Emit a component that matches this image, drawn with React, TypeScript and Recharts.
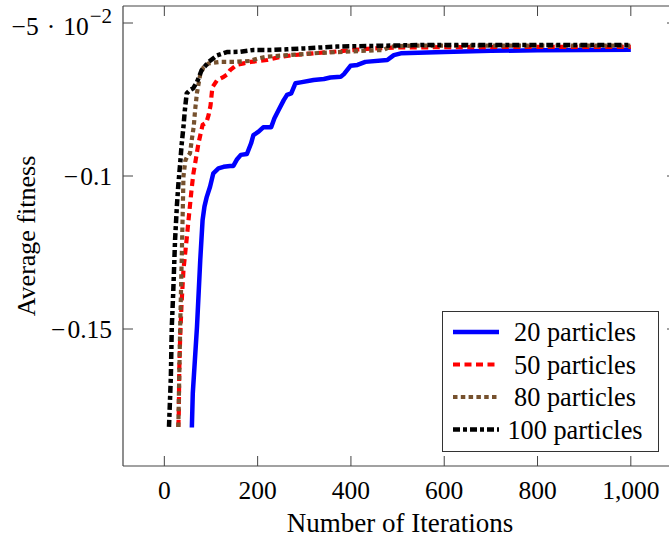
import React from 'react';
import { LineChart, Line, XAxis, YAxis, Legend, Label } from 'recharts';

const FONT = '"Liberation Serif", "Times New Roman", serif';

// ---- axis ticks ----
const xTicks = [0, 200, 400, 600, 800, 1000];
const yTicks = [-0.15, -0.1, -0.05];

// ---- series names ----
const seriesNames = ['20 particles', '50 particles', '80 particles', '100 particles'];

// ---- 20 particles ----
const iter20 = [59, 61, 70, 77, 82, 86, 91, 98, 105, 116, 127, 141, 148, 156, 164, 177, 186, 191, 202, 212, 229, 236, 245, 256, 263, 272, 281, 292, 320, 342, 356, 378, 385, 399, 414, 431, 478, 492, 507, 600, 700, 800, 900, 1000];
const fit20 = [-0.1822, -0.171, -0.1493, -0.1275, -0.1144, -0.11, -0.1068, -0.1035, -0.0991, -0.0975, -0.097, -0.0967, -0.0967, -0.0945, -0.0931, -0.0928, -0.0893, -0.0866, -0.0855, -0.0841, -0.0841, -0.0811, -0.0784, -0.0752, -0.0735, -0.073, -0.0697, -0.0694, -0.0686, -0.0683, -0.0678, -0.0676, -0.0667, -0.064, -0.0637, -0.0627, -0.0621, -0.0605, -0.0599, -0.0595, -0.0591, -0.0589, -0.0588, -0.0587];

// ---- 50 particles ----
const iter50 = [30, 31, 32, 34, 37, 41, 48, 54, 58, 62, 67, 73, 78, 82, 90, 95, 99, 103, 113, 125, 135, 141, 155, 170, 185, 220, 250, 277, 320, 363, 406, 450, 500, 600, 800, 1000];
const fit50 = [-0.182, -0.1775, -0.1634, -0.1525, -0.1416, -0.1307, -0.1204, -0.1111, -0.105, -0.0995, -0.095, -0.0895, -0.086, -0.0833, -0.0826, -0.08, -0.077, -0.071, -0.0687, -0.0678, -0.0668, -0.0654, -0.0637, -0.0632, -0.0627, -0.0621, -0.061, -0.0605, -0.0599, -0.0594, -0.0588, -0.0583, -0.058, -0.0579, -0.0578, -0.0578];

// ---- 80 particles ----
const iter80 = [30, 34, 38, 40, 41, 45, 48, 55, 59, 63, 66, 70, 77, 84, 95, 120, 150, 184, 200, 220, 256, 285, 330, 400, 470, 485, 528, 700, 1000];
const fit80 = [-0.182, -0.1492, -0.122, -0.1078, -0.1002, -0.095, -0.094, -0.0926, -0.088, -0.0839, -0.0784, -0.0728, -0.0668, -0.0645, -0.0632, -0.0627, -0.0627, -0.0624, -0.0616, -0.061, -0.0606, -0.0603, -0.0598, -0.0593, -0.0588, -0.0577, -0.0574, -0.0574, -0.0574];

// ---- 100 particles ----
const iter100 = [10, 14, 16, 19, 23, 27, 30, 34, 37, 41, 44, 48, 55, 62, 70, 80, 95, 113, 134, 163, 191, 227, 263, 300, 370, 442, 550, 1000];
const fit100 = [-0.182, -0.1656, -0.1492, -0.1383, -0.1209, -0.1095, -0.1029, -0.0958, -0.0899, -0.0839, -0.0784, -0.073, -0.0719, -0.0713, -0.0693, -0.0654, -0.0627, -0.0606, -0.0595, -0.0594, -0.0588, -0.0588, -0.0586, -0.0583, -0.0577, -0.0575, -0.0572, -0.0572];

const toPoints = (xs: number[], ys: number[]) => xs.map((x, i) => ({ x, y: ys[i] }));

const seriesData = [
  toPoints(iter20, fit20),
  toPoints(iter50, fit50),
  toPoints(iter80, fit80),
  toPoints(iter100, fit100),
];

const seriesStyle = [
  { color: '#0000ff', width: 4.5, dash: undefined as string | undefined },
  { color: '#ff0000', width: 4.2, dash: '7 4.5' },
  { color: '#76512e', width: 4.2, dash: '4.5 3.3' },
  { color: '#000000', width: 4.5, dash: '7 3 4 3' },
];

const FRAME = '#444';
const TICK_LEN = 10;
const TICK_FONT = 25.5;

const fmtX = (v: number) => v.toLocaleString('en-US');

const BottomTick = (props: any) => {
  const { x, y, payload } = props;
  return (
    <g>
      <line x1={x} x2={x} y1={y} y2={y - TICK_LEN} stroke={FRAME} strokeWidth={1} />
      <text x={x} y={y + 33} textAnchor="middle" fontFamily={FONT} fontSize={TICK_FONT} fill="#000">
        {fmtX(payload.value)}
      </text>
    </g>
  );
};

const TopTick = (props: any) => {
  const { x, y } = props;
  return <line x1={x} x2={x} y1={y} y2={y + TICK_LEN} stroke={FRAME} strokeWidth={1} />;
};

const LeftTick = (props: any) => {
  const { x, y, payload } = props;
  const v = payload.value;
  const isSci = Math.abs(v + 0.05) < 1e-9;
  return (
    <g>
      <line x1={x} x2={x + TICK_LEN} y1={y} y2={y} stroke={FRAME} strokeWidth={1} />
      {isSci ? (
        <text x={x - 11} y={y + 12} textAnchor="end" fontFamily={FONT} fontSize={TICK_FONT} fill="#000">
          <tspan>−5</tspan>
          <tspan dx={8}>·</tspan>
          <tspan dx={8}>10</tspan>
          <tspan dx={1} dy={-12} fontSize={21}>−2</tspan>
        </text>
      ) : (
        <text x={x - 11} y={y + 9} textAnchor="end" fontFamily={FONT} fontSize={TICK_FONT} fill="#000">
          <tspan>−</tspan>
          <tspan dx={2}>{String(Math.abs(v))}</tspan>
        </text>
      )}
    </g>
  );
};

const RightTick = (props: any) => {
  const { x, y } = props;
  return <line x1={x - TICK_LEN} x2={x} y1={y} y2={y} stroke={FRAME} strokeWidth={1} />;
};

const YLabel = (props: any) => {
  const { viewBox } = props;
  const cx = 35;
  const cy = viewBox.y + viewBox.height / 2;
  return (
    <text x={cx} y={cy} transform={`rotate(-90, ${cx}, ${cy})`} textAnchor="middle" fontFamily={FONT} fontSize={26} fill="#000">
      Average fitness
    </text>
  );
};

const renderLegend = () => (
  <div
    style={{
      width: 217,
      height: 141,
      border: '1px solid #333',
      background: '#fff',
      boxSizing: 'border-box',
    }}
  >
    <svg width={215} height={139} style={{ display: 'block' }}>
      {seriesNames.map((name, i) => {
        const cy = 20 + i * 32.5;
        const s = seriesStyle[i];
        return (
          <g key={name}>
            <line x1={10} x2={56} y1={cy} y2={cy} stroke={s.color} strokeWidth={s.width} strokeDasharray={s.dash} />
            <text x={132} y={cy + 9} textAnchor="middle" fontFamily={FONT} fontSize={26.3} fill="#000">
              {name}
            </text>
          </g>
        );
      })}
    </svg>
  </div>
);

const X_DOMAIN: [number, number] = [-88.6, 1099];
const Y_DOMAIN: [number, number] = [-0.19477, -0.04444];

export default function App() {
  return (
    <div style={{ position: 'absolute', left: 0, top: 0, width: 669, height: 537, overflow: 'hidden', background: '#fff' }}>
      <LineChart width={700} height={537} margin={{ top: 5, right: 22, bottom: 0, left: 0 }}>
        <XAxis
          xAxisId="b"
          type="number"
          dataKey="x"
          domain={X_DOMAIN}
          allowDataOverflow
          ticks={xTicks}
          interval={0}
          orientation="bottom"
          height={71}
          tickLine={false}
          tickSize={0}
          tickMargin={0}
          axisLine={{ stroke: FRAME, strokeWidth: 1.2 }}
          tick={<BottomTick />}
        >
          <Label value="Number of Iterations" position="insideBottom" offset={5} fontFamily={FONT} fontSize={27} fill="#000" />
        </XAxis>
        <XAxis
          xAxisId="t"
          type="number"
          dataKey="x"
          domain={X_DOMAIN}
          allowDataOverflow
          ticks={xTicks}
          interval={0}
          orientation="top"
          height={1}
          tickLine={false}
          tickSize={0}
          tickMargin={0}
          axisLine={{ stroke: FRAME, strokeWidth: 1.2 }}
          tick={<TopTick />}
        />
        <YAxis
          yAxisId="l"
          type="number"
          domain={Y_DOMAIN}
          allowDataOverflow
          ticks={yTicks}
          interval={0}
          orientation="left"
          width={123}
          tickLine={false}
          tickSize={0}
          tickMargin={0}
          axisLine={{ stroke: FRAME, strokeWidth: 1.2 }}
          tick={<LeftTick />}
          label={<Label content={<YLabel />} />}
        />
        <YAxis
          yAxisId="r"
          type="number"
          domain={Y_DOMAIN}
          allowDataOverflow
          ticks={yTicks}
          interval={0}
          orientation="right"
          width={1}
          tickLine={false}
          tickSize={0}
          tickMargin={0}
          axisLine={{ stroke: FRAME, strokeWidth: 1.2 }}
          tick={<RightTick />}
        />
        {seriesData.map((d, i) => (
          <Line
            key={seriesNames[i]}
            name={seriesNames[i]}
            data={d}
            dataKey="y"
            xAxisId="b"
            yAxisId="l"
            type="linear"
            stroke={seriesStyle[i].color}
            strokeWidth={seriesStyle[i].width}
            strokeDasharray={seriesStyle[i].dash}
            strokeLinejoin="round"
            dot={false}
            activeDot={false}
            isAnimationActive={false}
          />
        ))}
        <Legend
          content={renderLegend}
          layout="vertical"
          align="center"
          verticalAlign="middle"
          wrapperStyle={{ left: 442, top: 311, width: 217, height: 141 }}
        />
      </LineChart>
    </div>
  );
}
